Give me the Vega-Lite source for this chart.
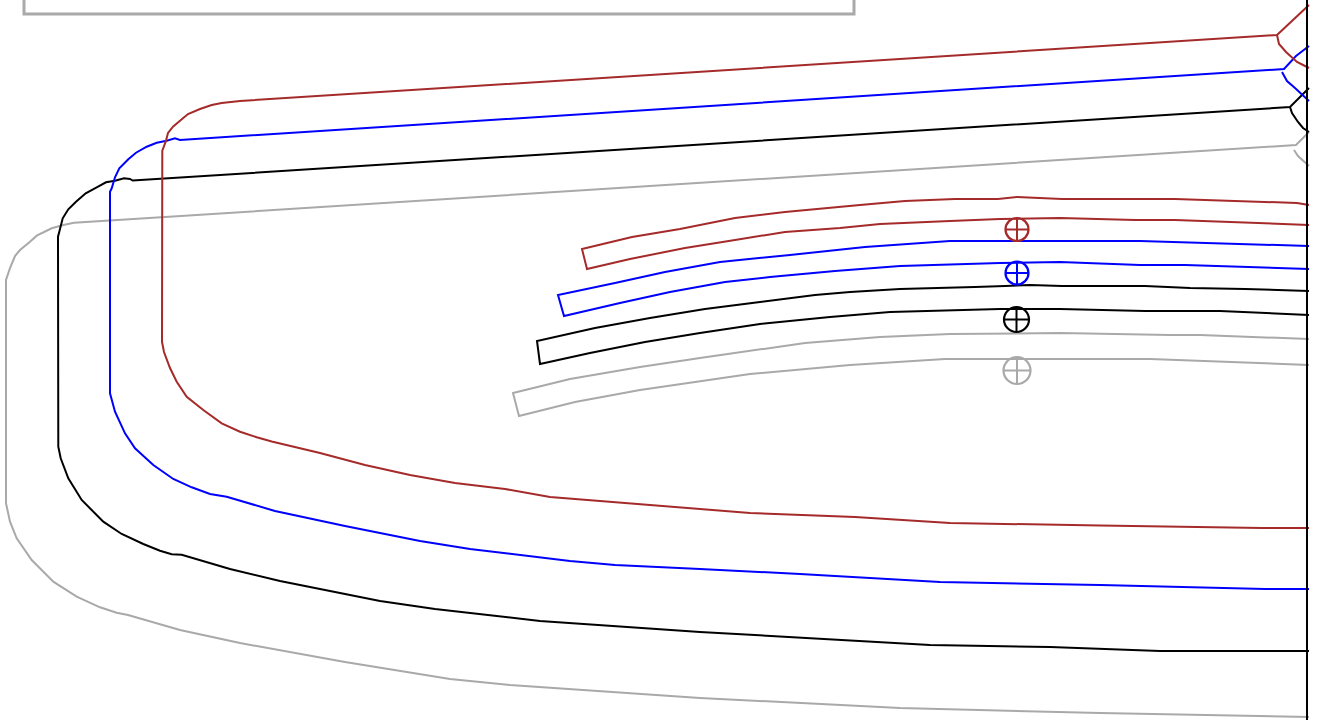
{"$schema":"https://vega.github.io/schema/vega-lite/v6.json","autosize":{"type":"fit","contains":"padding"},"width":1321,"height":720,"padding":0,"background":"white","config":{"view":{"stroke":null}},
"datasets":{"frame":[{"p":"box","x":24,"y":-4},{"p":"box","x":24,"y":14},{"p":"box","x":854,"y":14},{"p":"box","x":854,"y":-4}],"axisline":[{"p":"axis","x":1307,"y":0},{"p":"axis","x":1307,"y":720}],"lines":[
{"p":"g1","c":"grey","x":1309,"y":132},{"p":"g1","c":"grey","x":1296,"y":145},{"p":"g1","c":"grey","x":74,"y":222.7},{"p":"g1","c":"grey","x":63.3,"y":225},{"p":"g1","c":"grey","x":51.7,"y":228.3},{"p":"g1","c":"grey","x":36.7,"y":235.7},{"p":"g1","c":"grey","x":30,"y":241.7},{"p":"g1","c":"grey","x":20,"y":250},{"p":"g1","c":"grey","x":15,"y":256},{"p":"g1","c":"grey","x":10,"y":268},{"p":"g1","c":"grey","x":6,"y":280},{"p":"g1","c":"grey","x":6,"y":503.3},{"p":"g1","c":"grey","x":10,"y":521.7},{"p":"g1","c":"grey","x":16.7,"y":538.3},{"p":"g1","c":"grey","x":31.7,"y":560},{"p":"g1","c":"grey","x":53.3,"y":581.7},{"p":"g1","c":"grey","x":76.7,"y":596.7},{"p":"g1","c":"grey","x":100,"y":607.3},{"p":"g1","c":"grey","x":116.7,"y":612.7},{"p":"g1","c":"grey","x":128,"y":615},{"p":"g1","c":"grey","x":180,"y":630},{"p":"g1","c":"grey","x":240,"y":643},{"p":"g1","c":"grey","x":345,"y":662},{"p":"g1","c":"grey","x":450,"y":679},{"p":"g1","c":"grey","x":510,"y":685},{"p":"g1","c":"grey","x":700,"y":698},{"p":"g1","c":"grey","x":900,"y":708},{"p":"g1","c":"grey","x":1100,"y":713},{"p":"g1","c":"grey","x":1309,"y":717},
{"p":"g2","c":"grey","x":1294,"y":150},{"p":"g2","c":"grey","x":1298,"y":156},{"p":"g2","c":"grey","x":1309,"y":166},
{"p":"g3","c":"grey","x":1309,"y":339},{"p":"g3","c":"grey","x":1200,"y":335},{"p":"g3","c":"grey","x":1170,"y":335},{"p":"g3","c":"grey","x":1060,"y":333},{"p":"g3","c":"grey","x":950,"y":334},{"p":"g3","c":"grey","x":880,"y":337},{"p":"g3","c":"grey","x":805,"y":343},{"p":"g3","c":"grey","x":700,"y":358},{"p":"g3","c":"grey","x":640,"y":367},{"p":"g3","c":"grey","x":570,"y":379},{"p":"g3","c":"grey","x":513,"y":393},{"p":"g3","c":"grey","x":519,"y":416},{"p":"g3","c":"grey","x":575,"y":402},{"p":"g3","c":"grey","x":640,"y":390},{"p":"g3","c":"grey","x":750,"y":374},{"p":"g3","c":"grey","x":850,"y":365},{"p":"g3","c":"grey","x":945,"y":359},{"p":"g3","c":"grey","x":1150,"y":359},{"p":"g3","c":"grey","x":1309,"y":365},
{"p":"g4","c":"grey","x":1003.5,"y":370.5},{"p":"g4","c":"grey","x":1030.5,"y":370.5},{"p":"g5","c":"grey","x":1017,"y":357},{"p":"g5","c":"grey","x":1017,"y":384},
{"p":"k1","c":"black","x":1309,"y":88},{"p":"k1","c":"black","x":1290,"y":107},{"p":"k1","c":"black","x":132.7,"y":180.5},{"p":"k1","c":"black","x":130,"y":179},{"p":"k1","c":"black","x":124,"y":178.3},{"p":"k1","c":"black","x":115,"y":180.7},{"p":"k1","c":"black","x":106,"y":182.3},{"p":"k1","c":"black","x":96.7,"y":187.3},{"p":"k1","c":"black","x":85.7,"y":193.3},{"p":"k1","c":"black","x":76,"y":201.7},{"p":"k1","c":"black","x":68.3,"y":209.3},{"p":"k1","c":"black","x":62.7,"y":218.3},{"p":"k1","c":"black","x":59.3,"y":231.7},{"p":"k1","c":"black","x":58,"y":236.7},{"p":"k1","c":"black","x":58.3,"y":446.7},{"p":"k1","c":"black","x":60.7,"y":458.3},{"p":"k1","c":"black","x":68.3,"y":478.3},{"p":"k1","c":"black","x":81.7,"y":500},{"p":"k1","c":"black","x":103.3,"y":521.7},{"p":"k1","c":"black","x":121.7,"y":534},{"p":"k1","c":"black","x":143.3,"y":544},{"p":"k1","c":"black","x":160,"y":550.7},{"p":"k1","c":"black","x":171.7,"y":554.3},{"p":"k1","c":"black","x":181.7,"y":554.7},{"p":"k1","c":"black","x":230,"y":569},{"p":"k1","c":"black","x":280,"y":581},{"p":"k1","c":"black","x":380,"y":601},{"p":"k1","c":"black","x":435,"y":609},{"p":"k1","c":"black","x":540,"y":621},{"p":"k1","c":"black","x":700,"y":632},{"p":"k1","c":"black","x":930,"y":645},{"p":"k1","c":"black","x":1050,"y":647},{"p":"k1","c":"black","x":1160,"y":651},{"p":"k1","c":"black","x":1309,"y":651},
{"p":"k2","c":"black","x":1290,"y":107},{"p":"k2","c":"black","x":1292,"y":113},{"p":"k2","c":"black","x":1298,"y":122},{"p":"k2","c":"black","x":1303,"y":128},{"p":"k2","c":"black","x":1309,"y":132},
{"p":"k3","c":"black","x":1309,"y":291},{"p":"k3","c":"black","x":1245,"y":289},{"p":"k3","c":"black","x":1190,"y":288},{"p":"k3","c":"black","x":1145,"y":286},{"p":"k3","c":"black","x":1062,"y":286},{"p":"k3","c":"black","x":1030,"y":285},{"p":"k3","c":"black","x":1005,"y":286},{"p":"k3","c":"black","x":975,"y":287},{"p":"k3","c":"black","x":900,"y":289},{"p":"k3","c":"black","x":850,"y":292},{"p":"k3","c":"black","x":815,"y":295},{"p":"k3","c":"black","x":760,"y":302},{"p":"k3","c":"black","x":705,"y":309},{"p":"k3","c":"black","x":650,"y":318},{"p":"k3","c":"black","x":595,"y":328},{"p":"k3","c":"black","x":537,"y":341},{"p":"k3","c":"black","x":540,"y":364},{"p":"k3","c":"black","x":590,"y":353},{"p":"k3","c":"black","x":645,"y":342},{"p":"k3","c":"black","x":700,"y":333},{"p":"k3","c":"black","x":760,"y":324},{"p":"k3","c":"black","x":830,"y":317},{"p":"k3","c":"black","x":890,"y":312},{"p":"k3","c":"black","x":1000,"y":309},{"p":"k3","c":"black","x":1060,"y":309},{"p":"k3","c":"black","x":1145,"y":311},{"p":"k3","c":"black","x":1220,"y":311},{"p":"k3","c":"black","x":1309,"y":315},
{"p":"k4","c":"black","x":1004,"y":319.5},{"p":"k4","c":"black","x":1029,"y":319.5},{"p":"k5","c":"black","x":1016.5,"y":307},{"p":"k5","c":"black","x":1016.5,"y":332},
{"p":"u1","c":"blue","x":1309,"y":46},{"p":"u1","c":"blue","x":1296,"y":56},{"p":"u1","c":"blue","x":1284,"y":69},{"p":"u1","c":"blue","x":180,"y":140},{"p":"u1","c":"blue","x":175,"y":138.3},{"p":"u1","c":"blue","x":166.7,"y":140.7},{"p":"u1","c":"blue","x":156.7,"y":142.7},{"p":"u1","c":"blue","x":146.7,"y":146.7},{"p":"u1","c":"blue","x":136,"y":152.7},{"p":"u1","c":"blue","x":128.3,"y":159.3},{"p":"u1","c":"blue","x":119.3,"y":168.3},{"p":"u1","c":"blue","x":115,"y":177.3},{"p":"u1","c":"blue","x":111.7,"y":188.3},{"p":"u1","c":"blue","x":110,"y":191.7},{"p":"u1","c":"blue","x":110,"y":393.3},{"p":"u1","c":"blue","x":115,"y":411.7},{"p":"u1","c":"blue","x":125,"y":433.3},{"p":"u1","c":"blue","x":135,"y":448.3},{"p":"u1","c":"blue","x":153.3,"y":465},{"p":"u1","c":"blue","x":173.3,"y":479},{"p":"u1","c":"blue","x":191.7,"y":487.3},{"p":"u1","c":"blue","x":210,"y":494},{"p":"u1","c":"blue","x":226.7,"y":496.7},{"p":"u1","c":"blue","x":275,"y":511},{"p":"u1","c":"blue","x":345,"y":526},{"p":"u1","c":"blue","x":420,"y":541},{"p":"u1","c":"blue","x":470,"y":549},{"p":"u1","c":"blue","x":570,"y":561},{"p":"u1","c":"blue","x":615,"y":565},{"p":"u1","c":"blue","x":700,"y":569},{"p":"u1","c":"blue","x":800,"y":574},{"p":"u1","c":"blue","x":940,"y":582},{"p":"u1","c":"blue","x":1100,"y":585},{"p":"u1","c":"blue","x":1265,"y":589},{"p":"u1","c":"blue","x":1309,"y":589},
{"p":"u2","c":"blue","x":1282,"y":72},{"p":"u2","c":"blue","x":1287,"y":81},{"p":"u2","c":"blue","x":1295,"y":88},{"p":"u2","c":"blue","x":1309,"y":101},
{"p":"u3","c":"blue","x":1309,"y":246},{"p":"u3","c":"blue","x":1140,"y":241},{"p":"u3","c":"blue","x":950,"y":241},{"p":"u3","c":"blue","x":865,"y":247},{"p":"u3","c":"blue","x":790,"y":255},{"p":"u3","c":"blue","x":720,"y":262},{"p":"u3","c":"blue","x":665,"y":272},{"p":"u3","c":"blue","x":615,"y":283},{"p":"u3","c":"blue","x":558,"y":295},{"p":"u3","c":"blue","x":564,"y":316},{"p":"u3","c":"blue","x":620,"y":303},{"p":"u3","c":"blue","x":670,"y":292},{"p":"u3","c":"blue","x":725,"y":282},{"p":"u3","c":"blue","x":770,"y":277},{"p":"u3","c":"blue","x":835,"y":271},{"p":"u3","c":"blue","x":900,"y":266},{"p":"u3","c":"blue","x":1000,"y":263},{"p":"u3","c":"blue","x":1060,"y":262},{"p":"u3","c":"blue","x":1140,"y":265},{"p":"u3","c":"blue","x":1185,"y":265},{"p":"u3","c":"blue","x":1309,"y":269},
{"p":"u4","c":"blue","x":1005.5,"y":273},{"p":"u4","c":"blue","x":1028.5,"y":273},{"p":"u5","c":"blue","x":1017,"y":261.5},{"p":"u5","c":"blue","x":1017,"y":284.5},
{"p":"r1","c":"brown","x":1309,"y":5},{"p":"r1","c":"brown","x":1277,"y":35},{"p":"r1","c":"brown","x":240,"y":101},{"p":"r1","c":"brown","x":221.7,"y":103},{"p":"r1","c":"brown","x":211.7,"y":105},{"p":"r1","c":"brown","x":200,"y":109},{"p":"r1","c":"brown","x":188,"y":114},{"p":"r1","c":"brown","x":180,"y":120.7},{"p":"r1","c":"brown","x":173,"y":126.7},{"p":"r1","c":"brown","x":168,"y":133},{"p":"r1","c":"brown","x":165.7,"y":141.7},{"p":"r1","c":"brown","x":162.3,"y":150.7},{"p":"r1","c":"brown","x":162,"y":342},{"p":"r1","c":"brown","x":164,"y":352},{"p":"r1","c":"brown","x":170,"y":368},{"p":"r1","c":"brown","x":176.7,"y":381.7},{"p":"r1","c":"brown","x":186.7,"y":396.7},{"p":"r1","c":"brown","x":203.3,"y":410},{"p":"r1","c":"brown","x":221.7,"y":423.3},{"p":"r1","c":"brown","x":240,"y":431.7},{"p":"r1","c":"brown","x":256.7,"y":437.3},{"p":"r1","c":"brown","x":271.7,"y":441.5},{"p":"r1","c":"brown","x":320,"y":453},{"p":"r1","c":"brown","x":365,"y":465},{"p":"r1","c":"brown","x":410,"y":475},{"p":"r1","c":"brown","x":455,"y":483},{"p":"r1","c":"brown","x":505,"y":489},{"p":"r1","c":"brown","x":550,"y":497},{"p":"r1","c":"brown","x":650,"y":505},{"p":"r1","c":"brown","x":750,"y":513},{"p":"r1","c":"brown","x":855,"y":517},{"p":"r1","c":"brown","x":950,"y":523},{"p":"r1","c":"brown","x":1100,"y":525.5},{"p":"r1","c":"brown","x":1262,"y":528},{"p":"r1","c":"brown","x":1309,"y":528},
{"p":"r2","c":"brown","x":1277,"y":35},{"p":"r2","c":"brown","x":1279,"y":44},{"p":"r2","c":"brown","x":1286,"y":52},{"p":"r2","c":"brown","x":1297,"y":62},{"p":"r2","c":"brown","x":1309,"y":68},
{"p":"r3","c":"brown","x":1309,"y":205},{"p":"r3","c":"brown","x":1297,"y":203},{"p":"r3","c":"brown","x":1175,"y":199},{"p":"r3","c":"brown","x":1062,"y":199},{"p":"r3","c":"brown","x":1017,"y":197},{"p":"r3","c":"brown","x":998,"y":199},{"p":"r3","c":"brown","x":955,"y":199},{"p":"r3","c":"brown","x":905,"y":201},{"p":"r3","c":"brown","x":860,"y":205},{"p":"r3","c":"brown","x":785,"y":212},{"p":"r3","c":"brown","x":735,"y":218},{"p":"r3","c":"brown","x":680,"y":229},{"p":"r3","c":"brown","x":632,"y":237},{"p":"r3","c":"brown","x":582,"y":249},{"p":"r3","c":"brown","x":587,"y":269},{"p":"r3","c":"brown","x":630,"y":259},{"p":"r3","c":"brown","x":685,"y":248},{"p":"r3","c":"brown","x":735,"y":240},{"p":"r3","c":"brown","x":785,"y":232},{"p":"r3","c":"brown","x":840,"y":228},{"p":"r3","c":"brown","x":880,"y":224},{"p":"r3","c":"brown","x":950,"y":221},{"p":"r3","c":"brown","x":1000,"y":219},{"p":"r3","c":"brown","x":1060,"y":218},{"p":"r3","c":"brown","x":1135,"y":220},{"p":"r3","c":"brown","x":1175,"y":220},{"p":"r3","c":"brown","x":1309,"y":225},
{"p":"r4","c":"brown","x":1005.5,"y":229.5},{"p":"r4","c":"brown","x":1028.5,"y":229.5},{"p":"r5","c":"brown","x":1017,"y":218},{"p":"r5","c":"brown","x":1017,"y":241}
],"circles":[{"c":"brown","x":1017,"y":229.5,"r":529},{"c":"blue","x":1017,"y":273,"r":529},{"c":"black","x":1016.5,"y":319.5,"r":625},{"c":"grey","x":1017,"y":370.5,"r":729}]},
"layer":[
{"data":{"name":"frame"},"transform":[{"window":[{"op":"row_number","as":"i"}]}],"mark":{"type":"line","strokeWidth":3,"strokeCap":"butt","clip":true,"color":"#a9a9a9"},"encoding":{"x":{"field":"x","type":"quantitative","scale":{"domain":[0,1321],"nice":false,"zero":false},"axis":null},"y":{"field":"y","type":"quantitative","scale":{"domain":[720,0],"nice":false,"zero":false},"axis":null},"order":{"field":"i","type":"quantitative"}}},
{"data":{"name":"lines"},"transform":[{"window":[{"op":"row_number","as":"i"}]}],"mark":{"type":"line","strokeWidth":2,"strokeCap":"butt","clip":true},"encoding":{"x":{"field":"x","type":"quantitative","scale":{"domain":[0,1321],"nice":false,"zero":false},"axis":null},"y":{"field":"y","type":"quantitative","scale":{"domain":[720,0],"nice":false,"zero":false},"axis":null},"detail":{"field":"p"},"order":{"field":"i","type":"quantitative"},"color":{"field":"c","type":"nominal","legend":null,"scale":{"domain":["grey","black","blue","brown"],"range":["#a9a9a9","#000000","#0000ff","#a52a2a"]}}}},
{"data":{"name":"circles"},"mark":{"type":"point","filled":false,"strokeWidth":2.2,"opacity":1},"encoding":{"x":{"field":"x","type":"quantitative","scale":{"domain":[0,1321],"nice":false,"zero":false},"axis":null},"y":{"field":"y","type":"quantitative","scale":{"domain":[720,0],"nice":false,"zero":false},"axis":null},"size":{"field":"r","type":"quantitative","scale":null,"legend":null},"color":{"field":"c","type":"nominal","legend":null,"scale":{"domain":["grey","black","blue","brown"],"range":["#a9a9a9","#000000","#0000ff","#a52a2a"]}}}},
{"data":{"name":"axisline"},"transform":[{"window":[{"op":"row_number","as":"i"}]}],"mark":{"type":"line","strokeWidth":2,"strokeCap":"butt","clip":true,"color":"#000000"},"encoding":{"x":{"field":"x","type":"quantitative","scale":{"domain":[0,1321],"nice":false,"zero":false},"axis":null},"y":{"field":"y","type":"quantitative","scale":{"domain":[720,0],"nice":false,"zero":false},"axis":null},"order":{"field":"i","type":"quantitative"}}}
]}
